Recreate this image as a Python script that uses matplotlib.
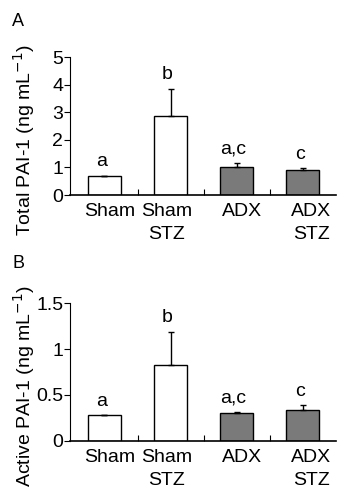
import matplotlib
matplotlib.use("Agg")
import matplotlib.pyplot as plt
from matplotlib.transforms import ScaledTranslation

plt.rcParams['font.family'] = ['Liberation Sans', 'DejaVu Sans']

groups = ["Sham", "Sham\nSTZ", "ADX", "ADX\nSTZ"]
bar_colors = ["white", "white", "#7a7a7a", "#7a7a7a"]

total_pai = [0.70, 2.87, 1.02, 0.92]
total_err = [0.0, 0.98, 0.13, 0.05]
total_sig = ["a", "b", "a,c", "c"]

active_pai = [0.28, 0.83, 0.30, 0.34]
active_err = [0.0, 0.36, 0.01, 0.045]
active_sig = ["a", "b", "a,c", "c"]

FS = 14
# small horizontal nudges of the group labels (points), as typeset in the original
label_shift = [4, -3, 4, 6]


def panel(fig, ax, vals, errs, sig, ylim, yticks, yticklabels, ylabel, offset):
    x = range(len(vals))
    ax.bar(x, vals, width=0.5, color=bar_colors, edgecolor="black", linewidth=1.0, zorder=2)
    ax.errorbar(x, vals, yerr=[[0] * len(errs), errs], fmt="none", ecolor="black",
                elinewidth=1.0, capsize=2.5, capthick=1.0, zorder=3)
    for i, (v, e, s) in enumerate(zip(vals, errs, sig)):
        ax.text(i - 0.05, v + e + offset, s, ha="center", va="bottom", fontsize=FS)
    ax.set_xlim(-0.52, 3.5)
    ax.set_ylim(*ylim)
    ax.set_yticks(yticks)
    ax.set_yticklabels(yticklabels, fontsize=FS)
    ax.set_xticks(list(x))
    ax.set_xticklabels(groups, fontsize=FS, linespacing=1.45)
    ax.tick_params(axis="x", length=0, pad=6)
    ax.tick_params(axis="y", direction="out", length=4, pad=1, width=0.8)
    ax.set_xticks([0.5, 1.5, 2.5], minor=True)
    ax.tick_params(axis="x", which="minor", direction="in", length=4, width=0.8)
    for lab, dx in zip(ax.get_xticklabels(), label_shift):
        lab.set_transform(lab.get_transform() + ScaledTranslation(dx / 72, 0, fig.dpi_scale_trans))
    for side in ["top", "right"]:
        ax.spines[side].set_visible(False)
    ax.spines["left"].set_linewidth(0.8)
    ax.spines["bottom"].set_linewidth(1.2)
    ax.set_ylabel(ylabel, fontsize=FS)
    ax.yaxis.set_label_coords(-0.125, 0.40)


fig = plt.figure(figsize=(3.37, 4.97), dpi=100)

ax1 = fig.add_axes([0.208, 0.6076, 0.789, 0.2777])
panel(fig, ax1, total_pai, total_err, total_sig, (0, 5), [0, 1, 2, 3, 4, 5],
      ["0", "1", "2", "3", "4", "5"], "Total PAI-1 (ng mL$^{-1}$)", 0.2)

ax2 = fig.add_axes([0.208, 0.1133, 0.789, 0.2765])
panel(fig, ax2, active_pai, active_err, active_sig, (0, 1.5), [0, 0.5, 1, 1.5],
      ["0", "0.5", "1", "1.5"], "Active PAI-1 (ng mL$^{-1}$)", 0.06)

fig.text(0.036, 0.956, "A", fontsize=13, ha="left", va="center")
fig.text(0.036, 0.469, "B", fontsize=13, ha="left", va="center")

fig.savefig("out.png", dpi=100)
